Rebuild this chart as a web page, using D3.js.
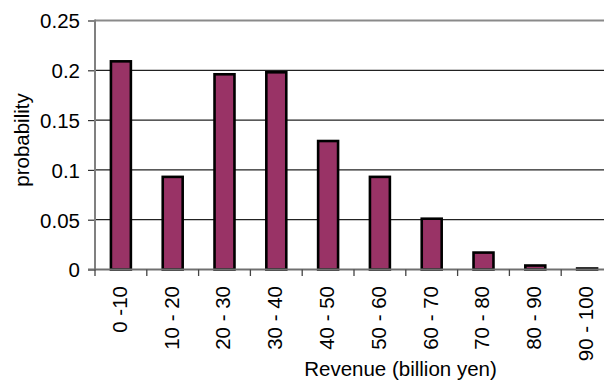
<!DOCTYPE html>
<html>
<head>
<meta charset="utf-8">
<script src="https://cdn.jsdelivr.net/npm/d3@7"></script>
<style>
  html, body { margin: 0; padding: 0; background: #fff; }
  svg { display: block; }
  text { font-family: "Liberation Sans", Arial, sans-serif; fill: #000; }
</style>
</head>
<body>
<svg id="chart" width="604" height="381"></svg>
<script>
// Revenue bins (billion yen) and their probabilities
const categories = ["0 -10", "10 - 20", "20 - 30", "30 - 40", "40 - 50",
                    "50 - 60", "60 - 70", "70 - 80", "80 - 90", "90 - 100"];
const probabilities = [0.209, 0.093, 0.196, 0.198, 0.129,
                       0.093, 0.051, 0.017, 0.004, 0.001];
const yTickValues = [0, 0.05, 0.1, 0.15, 0.2, 0.25];
const yTickLabels = ["0", "0.05", "0.1", "0.15", "0.2", "0.25"];

const svg = d3.select("#chart");
const W = 604, H = 381;
const plotLeft = 95, plotTop = 20.5, plotBottom = 269.5;
const step = 51.8;

const x = d3.scaleBand()
  .domain(categories)
  .range([plotLeft, plotLeft + step * categories.length])
  .padding(0);

const y = d3.scaleLinear()
  .domain([0, 0.25])
  .range([plotBottom, plotTop]);

svg.append("rect").attr("width", W).attr("height", H).attr("fill", "#fff");

// Horizontal gridlines (inner values)
svg.append("g")
  .selectAll("line")
  .data(yTickValues.filter(v => v > 0 && v < 0.25))
  .join("line")
  .attr("x1", plotLeft).attr("x2", W)
  .attr("y1", d => y(d)).attr("y2", d => y(d))
  .attr("stroke", "#222").attr("stroke-width", 1.2);

// Plot area top border
svg.append("line")
  .attr("x1", plotLeft).attr("x2", W)
  .attr("y1", y(0.25)).attr("y2", y(0.25))
  .attr("stroke", "#8a8a8a").attr("stroke-width", 2.2);

// Y axis
const yAxis = svg.append("g")
  .attr("transform", `translate(${plotLeft},0)`)
  .call(d3.axisLeft(y)
    .tickValues(yTickValues)
    .tickFormat((d, i) => yTickLabels[i])
    .tickSize(7)
    .tickPadding(8));
yAxis.select(".domain").remove();
yAxis.selectAll(".tick line").attr("stroke", "#333").attr("stroke-width", 1.2);
yAxis.selectAll(".tick text")
  .attr("font-size", "20.5px")
  .attr("dy", "0.36em")
  .attr("fill", "#000");

// Bars
const barFrac = 0.385;
svg.append("g")
  .selectAll("rect")
  .data(probabilities)
  .join("rect")
  .attr("x", (d, i) => x(categories[i]) + x.bandwidth() * (1 - barFrac) / 2)
  .attr("width", x.bandwidth() * barFrac)
  .attr("y", d => y(d))
  .attr("height", d => y(0) - y(d))
  .attr("fill", "#993366")
  .attr("stroke", "#000")
  .attr("stroke-width", 2.6);

// Left axis line
svg.append("line")
  .attr("x1", plotLeft).attr("x2", plotLeft)
  .attr("y1", y(0.25) - 1).attr("y2", y(0) + 1)
  .attr("stroke", "#808080").attr("stroke-width", 2);

// Bottom axis line
svg.append("line")
  .attr("x1", plotLeft - 7).attr("x2", W)
  .attr("y1", y(0)).attr("y2", y(0))
  .attr("stroke", "#707070").attr("stroke-width", 2);

// Category boundary ticks
svg.append("g")
  .selectAll("line")
  .data(categories)
  .join("line")
  .attr("x1", d => x(d)).attr("x2", d => x(d))
  .attr("y1", y(0)).attr("y2", y(0) + 6.5)
  .attr("stroke", "#444").attr("stroke-width", 1.3);

// X axis labels (rotated)
const xAxis = svg.append("g")
  .attr("transform", `translate(0,${y(0)})`)
  .call(d3.axisBottom(x).tickSize(0).tickPadding(0));
xAxis.select(".domain").remove();
xAxis.selectAll(".tick line").remove();
xAxis.selectAll(".tick text")
  .attr("font-size", "20.5px")
  .attr("fill", "#000")
  .attr("text-anchor", "end")
  .attr("transform", "rotate(-90)")
  .attr("x", -16.5)
  .attr("y", 0)
  .attr("dy", "0.29em");

// Axis titles
svg.append("text")
  .attr("x", 400.5).attr("y", 376)
  .attr("text-anchor", "middle")
  .attr("font-size", "20.5px")
  .text("Revenue (billion yen)");

svg.append("text")
  .attr("transform", "translate(29,140) rotate(-90)")
  .attr("text-anchor", "middle")
  .attr("font-size", "20.5px")
  .text("probability");
</script>
</body>
</html>
